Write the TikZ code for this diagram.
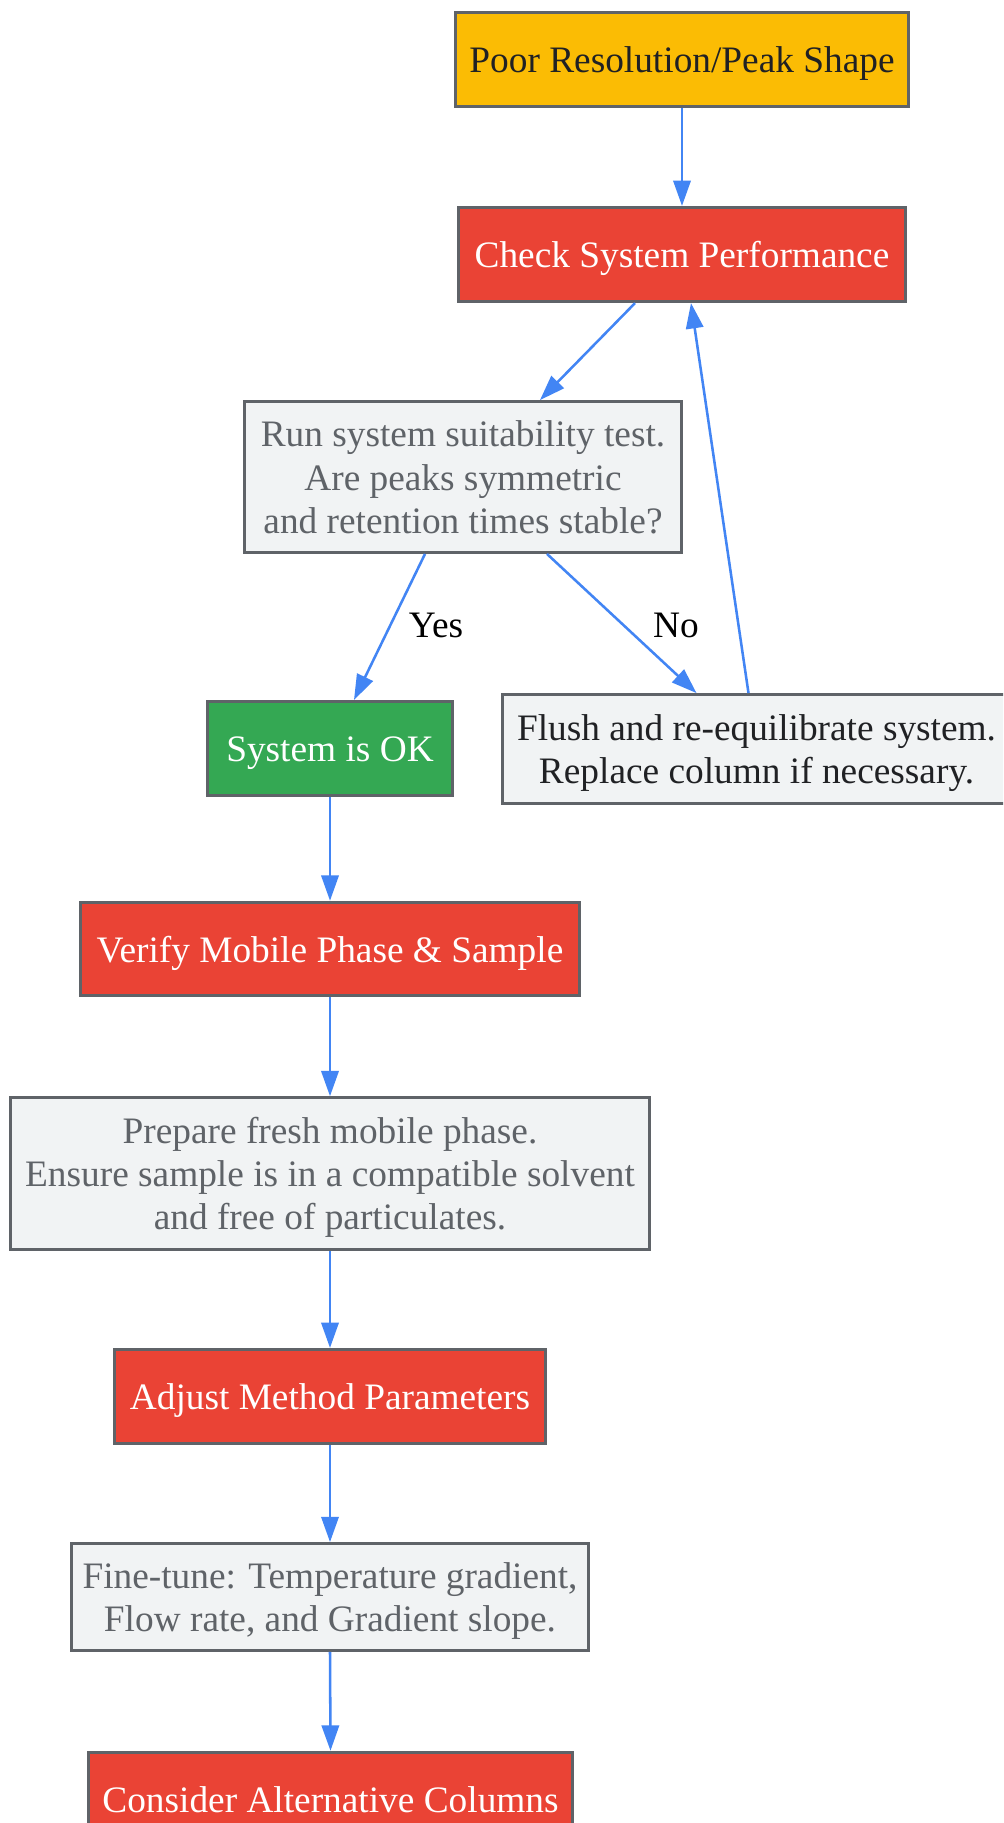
\documentclass[tikz,border=0pt]{standalone}
\usepackage{fontspec}
\setmainfont{Liberation Serif}
\usetikzlibrary{arrows.meta,calc}
\definecolor{gyellow}{HTML}{FBBC04}
\definecolor{gred}{HTML}{EA4335}
\definecolor{ggreen}{HTML}{34A853}
\definecolor{gfill}{HTML}{F1F3F4}
\definecolor{gborder}{HTML}{5F6368}
\definecolor{garrow}{HTML}{4285F4}
\definecolor{gdark}{HTML}{202124}
\newcommand\ls{\rule[-6.3pt]{0pt}{32.2pt}}
\tikzset{
  box/.style={rectangle, draw=gborder, line width=2.4pt, inner sep=0pt, align=center,
    font=\fontsize{28}{32.5}\selectfont},
  yellowbox/.style={box, fill=gyellow, text=gdark},
  redbox/.style={box, fill=gred, text=white},
  greenbox/.style={box, fill=ggreen, text=white},
  graybox/.style={box, fill=gfill, text=gborder},
  darkgraybox/.style={box, fill=gfill, text=gdark},
  conn/.style={draw=garrow, line width=1.9pt, -{Triangle[length=19pt,width=13pt]}},
  lbl/.style={font=\fontsize{28}{32.5}\selectfont, text=black, inner sep=0pt}
}
\begin{document}
\begin{tikzpicture}[x=0.75pt,y=-0.75pt]
\useasboundingbox (0,0) rectangle (1003,1823);
\clip (0,0) rectangle (1003,1823);
\fill[white] (0,0) rectangle (1003,1823);

\node[yellowbox, minimum width=339.5pt, minimum height=70pt] (poor) at (682,59.5) {\ls Poor Resolution/Peak Shape};
\node[redbox, minimum width=335pt, minimum height=70.5pt] (check) at (682,254.5) {\ls Check System Performance};
\node[graybox, minimum width=327.5pt, minimum height=113pt] (run) at (463,477) {\ls Run system suitability test.\\\ls Are peaks symmetric\\\ls and retention times stable?};
\node[greenbox, minimum width=183.5pt, minimum height=70.5pt] (ok) at (330,748.5) {\ls System is OK};
\node[darkgraybox, minimum width=380.5pt, minimum height=81.5pt] (flush) at (756.5,749) {\ls Flush and re-equilibrate system.\\\ls Replace column if necessary.};
\node[redbox, minimum width=374.5pt, minimum height=70pt] (verify) at (330,949) {\ls Verify Mobile Phase \& Sample};
\node[graybox, minimum width=479pt, minimum height=113.5pt] (prepare) at (330,1173.5) {\ls Prepare fresh mobile phase.\\\ls Ensure sample is in a compatible solvent\\\ls and free of particulates.};
\node[redbox, minimum width=323.5pt, minimum height=70.5pt] (adjust) at (330,1396.5) {\ls Adjust Method Parameters};
\node[graybox, minimum width=387.5pt, minimum height=80pt] (fine) at (330,1597) {\ls Fine-tune: Temperature gradient,\\\ls Flow rate, and Gradient slope.};
\node[redbox, minimum width=362.5pt, minimum height=70pt] (consider) at (330.5,1799) {\ls Consider Alternative Columns};

\draw[conn] (poor.south) -- (check.north);
\draw[conn] ($(check.south)+(-47,0)$) -- ($(run.north)+(77,0)$);
\draw[conn] ($(run.south)+(-38,0)$) -- ($(ok.north)+(24,0)$);
\draw[conn] ($(run.south)+(84,0)$) -- ($(flush.north)+(-60,0)$);
\draw[conn] ($(flush.north)+(-8,0)$) -- ($(check.south)+(9,0)$);
\draw[conn] (ok.south) -- (verify.north);
\draw[conn] (verify.south) -- (prepare.north);
\draw[conn] (prepare.south) -- (adjust.north);
\draw[conn] (adjust.south) -- (fine.north);
\draw[conn] (fine.south) -- (consider.north);

\node[lbl] (yes) at (436,625) {Yes};
\node[lbl] (no) at (676,625) {No};
\end{tikzpicture}
\end{document}
